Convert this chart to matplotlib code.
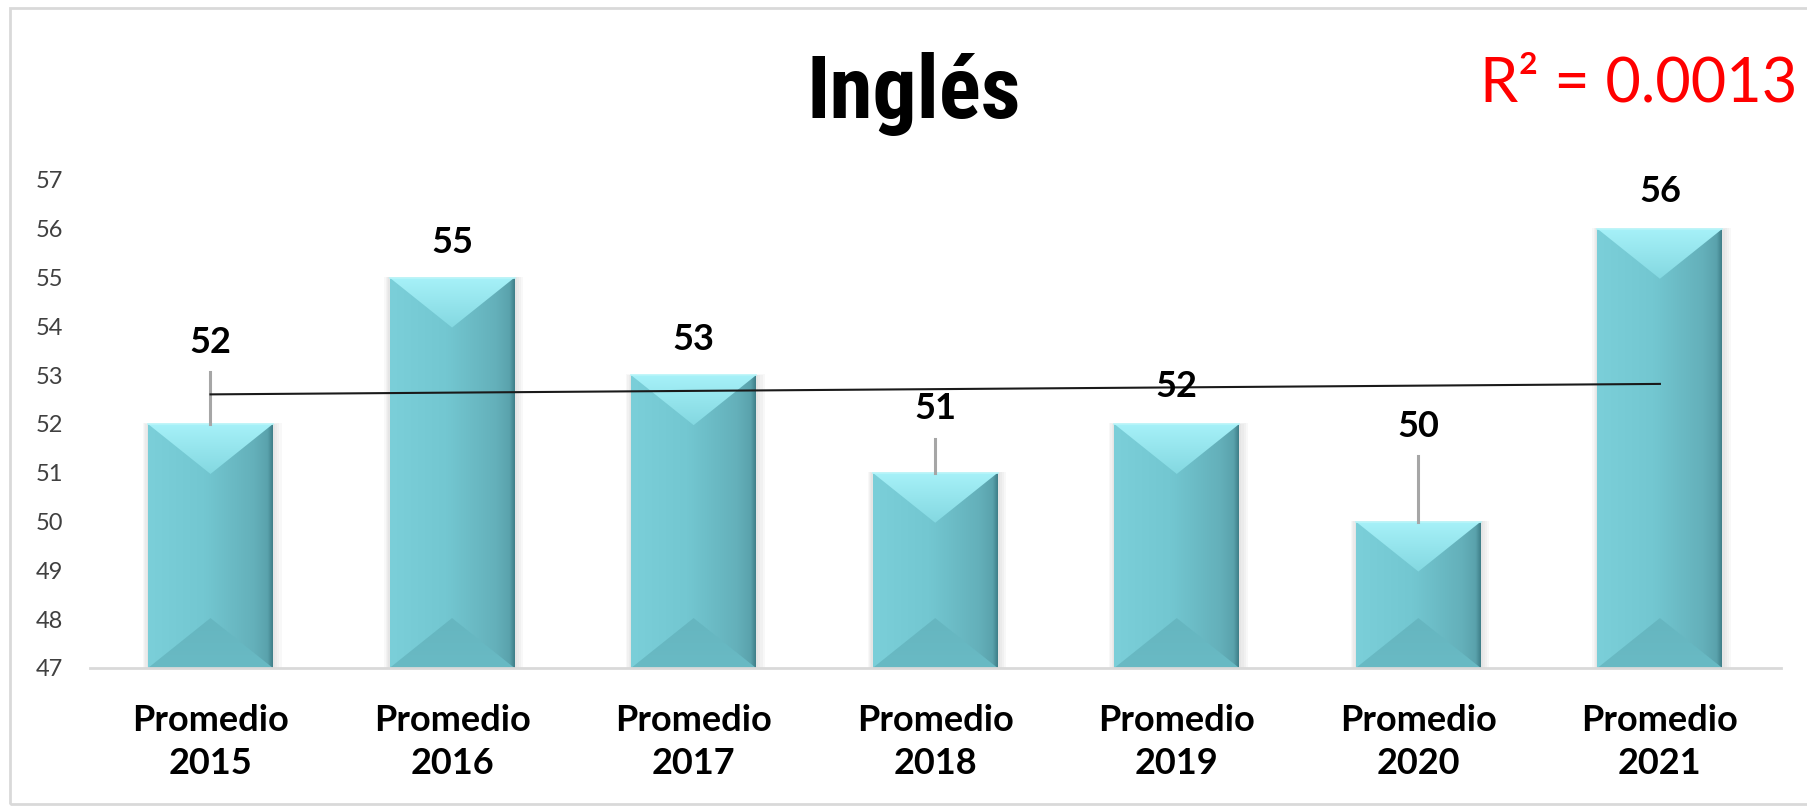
import numpy as np
import matplotlib.pyplot as plt
from matplotlib.patches import Polygon, Rectangle
from matplotlib.colors import LinearSegmentedColormap

# datos
anios = ['2015', '2016', '2017', '2018', '2019', '2020', '2021']
promedio = [52, 55, 53, 51, 52, 50, 56]
etiquetas = ['Promedio\n' + a for a in anios]
y_ticks = list(range(47, 58))
# labels were dragged up in the original, some with a leader line
label_lift = [1.66, 0.71, 0.74, 1.31, 0.76, 1.94, 0.77]
leader_len = [1.07, 0, 0, 0.69, 0, 1.34, 0]

W, H = 1807, 806
fig = plt.figure(figsize=(W / 100, H / 100), dpi=100)
ax = fig.add_axes([89.7 / W, 1 - 668 / H, 1691 / W, 488 / H])

x = np.arange(len(anios))
ymin, ymax = 47, 57
bw = 0.517
vals = np.array(promedio)

# soft shadow behind the bars
for k in range(1, 5):
    s = 0.009 * k
    for xi, v in zip(x, vals):
        ax.add_patch(Rectangle((xi - bw / 2 - s * 0.6, ymin), bw + s * 1.6, v - ymin + s * 0.5,
                               color='#808080', alpha=0.05, lw=0, zorder=1))

bars = ax.bar(x, vals - ymin, bottom=ymin, width=bw, color='#71C5CF', zorder=2)

body_cmap = LinearSegmentedColormap.from_list(
    'body', [(0, '#7BCFD9'), (0.45, '#73C7D1'), (0.85, '#64B0BA'), (0.96, '#5AA2AC'), (1, '#3E7E88')])
top_cmap = LinearSegmentedColormap.from_list('top', ['#A6F1F8', '#84D8E1'])
bot_cmap = LinearSegmentedColormap.from_list('bot', ['#69BAC4', '#66B6C0'])

# bevel depth: triangle apex at 0.4 of the bar width (in pixels)
px_x = 1691 / 7.0
px_y = 488 / (ymax - ymin)
d = 0.4 * bw * px_x / px_y

grad_h = np.linspace(0, 1, 256).reshape(1, -1)
grad_v = np.linspace(0, 1, 64).reshape(-1, 1)
for b in bars:
    x0, w, y0, top = b.get_x(), b.get_width(), b.get_y(), b.get_y() + b.get_height()
    cx = x0 + w / 2
    im = ax.imshow(grad_h, cmap=body_cmap, aspect='auto', extent=[x0, x0 + w, y0, top],
                   interpolation='bicubic', zorder=3)
    im.set_clip_path(b)
    tri_top = Polygon([[x0, top], [x0 + w, top], [cx, top - d]], closed=True,
                      transform=ax.transData)
    im2 = ax.imshow(grad_v, cmap=top_cmap, aspect='auto', origin='upper',
                    extent=[x0, x0 + w, top - d, top], zorder=4)
    im2.set_clip_path(tri_top)
    tri_bot = Polygon([[x0, y0], [x0 + w, y0], [cx, y0 + d]], closed=True,
                      transform=ax.transData)
    im3 = ax.imshow(grad_v, cmap=bot_cmap, aspect='auto', origin='lower',
                    extent=[x0, x0 + w, y0, y0 + d], zorder=4)
    im3.set_clip_path(tri_bot)
    ax.plot([x0, x0 + w], [top, top], color='#B8F6FA', lw=1.2, zorder=5)

# linea de tendencia lineal
coef = np.polyfit(x + 1, vals, 1)
ajuste = np.polyval(coef, x + 1)
r2 = 1 - np.sum((vals - ajuste) ** 2) / np.sum((vals - vals.mean()) ** 2)
ax.plot(x[[0, -1]], ajuste[[0, -1]], color='#1A1A1A', lw=1.5, zorder=7)

# leader lines + value labels
for xi, v, lift, ll in zip(x, vals, label_lift, leader_len):
    if ll > 0:
        ax.plot([xi, xi], [v, v + ll], color='#A6A6A6', lw=2.2, zorder=6)
    ax.text(xi, v + lift, str(v), ha='center', va='center', fontsize=26,
            fontweight='bold', family='Lato', color='#000000', zorder=8, clip_on=False)

ax.set_xlim(-0.5, 6.5)
ax.set_ylim(ymin, ymax)
ax.set_yticks(y_ticks)
ax.set_yticklabels([str(t) for t in y_ticks], fontsize=17, color='#404040', family='Lato')
ax.set_xticks(x)
ax.set_xticklabels(etiquetas, fontsize=26, fontweight='bold', family='Lato', linespacing=1.35)
ax.tick_params(axis='y', length=0, pad=19)
ax.tick_params(axis='x', length=0, pad=26)
for s in ['top', 'right', 'left']:
    ax.spines[s].set_visible(False)
ax.spines['bottom'].set_color('#D9D9D9')
ax.spines['bottom'].set_linewidth(2)
ax.spines['bottom'].set_zorder(9)

fig.text(914 / W, 1 - 118 / H, 'Inglés', ha='center', va='baseline', fontsize=63,
         fontweight='bold', family=['Roboto Condensed', 'Roboto'])
fig.text(1797 / W, 1 - 101 / H, 'R² = %.4f' % r2, ha='right', va='baseline',
         fontsize=44, color='#FF0000', family='Lato')

# chart frame
fig.patches.append(Rectangle((10 / W, 1 - 804 / H), (W - 5) / W, 796 / H, fill=False,
                             edgecolor='#D9D9D9', lw=2, transform=fig.transFigure,
                             figure=fig))

fig.savefig('out.png', dpi=100)
